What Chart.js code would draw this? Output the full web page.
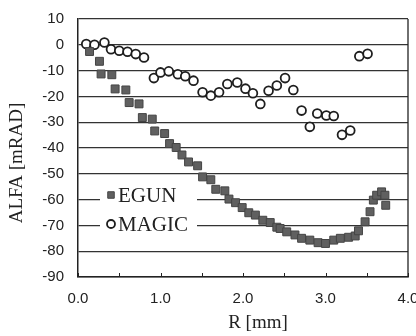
<!DOCTYPE html>
<html>
<head>
<meta charset="utf-8">
<script src="https://cdn.jsdelivr.net/npm/chart.js@4.4.0/dist/chart.umd.min.js"></script>
<style>
    html, body { margin: 0; padding: 0; background: #fff; }
    #wrap { width: 416px; height: 336px; }
</style>
</head>
<body>
<div id="wrap"><canvas id="alfaChart" width="416" height="336"></canvas></div>
<script>
// values
const egunR = [0.14, 0.26, 0.28, 0.41, 0.45, 0.58, 0.62, 0.74, 0.78, 0.90, 0.93, 1.05, 1.11, 1.19, 1.26,
    1.34, 1.45, 1.51, 1.61, 1.67, 1.78, 1.83, 1.91, 1.99, 2.07, 2.15, 2.24, 2.33, 2.41, 2.45, 2.53,
    2.63, 2.71, 2.81, 2.91, 3.00, 3.10, 3.18, 3.28, 3.36, 3.40, 3.48, 3.54, 3.58, 3.62, 3.68, 3.72, 3.73];
const egunAlfa = [-2.6, -6.4, -11.3, -11.6, -17.1, -17.5, -22.4, -22.9, -28.2, -28.8, -33.4, -34.4, -38.3, -39.8, -42.7,
    -45.4, -46.9, -51.2, -52.3, -56.0, -56.6, -59.8, -61.2, -63.1, -65.1, -66.0, -68.0, -68.9, -70.7, -71.2, -72.5,
    -73.7, -75.0, -75.7, -76.7, -77.0, -75.7, -75.0, -74.6, -74.1, -72.1, -68.6, -64.7, -60.2, -58.3, -57.0, -58.3, -62.2];

const magicR = [0.10, 0.20, 0.32, 0.40, 0.50, 0.60, 0.70, 0.80, 0.92, 1.00, 1.10, 1.21, 1.30, 1.40, 1.51, 1.61,
    1.71, 1.81, 1.93, 2.03, 2.12, 2.21, 2.31, 2.41, 2.51, 2.61, 2.71, 2.81, 2.90, 3.01, 3.10, 3.20, 3.30, 3.41, 3.51];
const magicAlfa = [0.3, 0.0, 0.9, -1.7, -2.3, -2.7, -3.6, -4.9, -12.9, -10.7, -10.3, -11.4, -12.2, -13.9, -18.4, -19.7,
    -18.4, -15.2, -14.6, -17.0, -18.8, -22.9, -17.8, -15.8, -12.9, -17.5, -25.5, -31.8, -26.6, -27.4, -27.6, -34.9, -33.2, -4.4, -3.5];

const seriesNames = ['EGUN', 'MAGIC'];
const xTitle = 'R [mm]';
const yTitle = 'ALFA [mRAD]';
const xMin = 0, xMax = 4, xStep = 0.5;
const yMin = -90, yMax = 10, yStep = 10;

const ink = '#222';
const tickFont = { family: '"Liberation Sans Narrow", "Liberation Sans", Arial, sans-serif', size: 15 };
const serif = '"Liberation Serif", "Times New Roman", serif';

function toPoints(xs, ys) {
    return xs.map((x, i) => ({ x: x, y: ys[i] }));
}

const extras = {
    id: 'extras',
    beforeDatasetsDraw(chart) {
        const ctx = chart.ctx;
        const a = chart.chartArea;
        const xs = chart.scales.x;
        ctx.save();
        ctx.strokeStyle = ink;
        ctx.lineWidth = 1.3;
        // right border
        ctx.beginPath();
        ctx.moveTo(a.right, a.top);
        ctx.lineTo(a.right, a.bottom);
        ctx.stroke();
        // small inner ticks on the R axis
        ctx.lineWidth = 1;
        xs.ticks.forEach(t => {
            const px = Math.round(xs.getPixelForValue(t.value)) + 0.5;
            ctx.beginPath();
            ctx.moveTo(px, a.bottom);
            ctx.lineTo(px, a.bottom - 4);
            ctx.stroke();
        });
        ctx.restore();
    },
    afterDraw(chart) {
        const ctx = chart.ctx;
        ctx.save();
        ctx.fillStyle = ink;
        ctx.font = '19px ' + serif;
        ctx.textAlign = 'center';
        ctx.textBaseline = 'middle';
        ctx.fillText(xTitle, 258, 323);
        ctx.translate(17, 163);
        ctx.rotate(-Math.PI / 2);
        ctx.fillText(yTitle, 0, 0);
        ctx.restore();

        // legend inside the plot
        ctx.save();
        ctx.fillStyle = '#fff';
        ctx.fillRect(100, 182, 97, 55);
        const rows = [195, 224];
        chart.data.datasets.forEach((ds, i) => {
            const y = rows[i];
            ctx.fillStyle = ds.backgroundColor;
            ctx.strokeStyle = ds.borderColor;
            ctx.lineWidth = ds.borderWidth;
            Chart.helpers.drawPoint(ctx, {
                pointStyle: ds.pointStyle,
                radius: i === 0 ? 4.6 : 4,
                borderWidth: ds.borderWidth
            }, 111, y);
            ctx.fillStyle = ink;
            ctx.font = '21px ' + serif;
            ctx.textAlign = 'left';
            ctx.textBaseline = 'middle';
            ctx.fillText(ds.label, 118, y + 1);
        });
        ctx.restore();
    }
};

const ctx = document.getElementById('alfaChart').getContext('2d');
new Chart(ctx, {
    type: 'scatter',
    data: {
        datasets: [{
            label: seriesNames[0],
            data: toPoints(egunR, egunAlfa),
            pointStyle: 'rect',
            pointRadius: 5.6,
            backgroundColor: '#606060',
            borderColor: '#444',
            borderWidth: 1
        }, {
            label: seriesNames[1],
            data: toPoints(magicR, magicAlfa),
            pointStyle: 'circle',
            pointRadius: 4.4,
            backgroundColor: '#fff',
            borderColor: '#1e1e1e',
            borderWidth: 1.8
        }]
    },
    options: {
        responsive: false,
        animation: false,
        devicePixelRatio: 1,
        layout: { padding: { left: 0, top: 19, right: 8, bottom: 0 } },
        plugins: {
            legend: { display: false },
            tooltip: { enabled: false }
        },
        scales: {
            x: {
                type: 'linear',
                min: xMin,
                max: xMax,
                afterFit: s => { s.height = 59; s.paddingLeft = 0; s.paddingRight = 0; },
                ticks: {
                    stepSize: xStep,
                    autoSkip: false,
                    maxRotation: 0,
                    padding: 13,
                    color: ink,
                    font: tickFont,
                    callback: v => (Math.abs(v % 1) < 1e-9 ? v.toFixed(1) : '')
                },
                grid: { display: false, drawTicks: false },
                border: { display: true, color: ink, width: 1.5 }
            },
            y: {
                min: yMin,
                max: yMax,
                afterFit: s => { s.width = 78; s.paddingTop = 0; s.paddingBottom = 0; },
                ticks: {
                    stepSize: yStep,
                    padding: 14,
                    color: ink,
                    font: tickFont
                },
                grid: { color: '#333', lineWidth: 1.2, drawTicks: false },
                border: { display: true, color: ink, width: 1.5 }
            }
        }
    },
    plugins: [extras]
});
</script>
</body>
</html>
